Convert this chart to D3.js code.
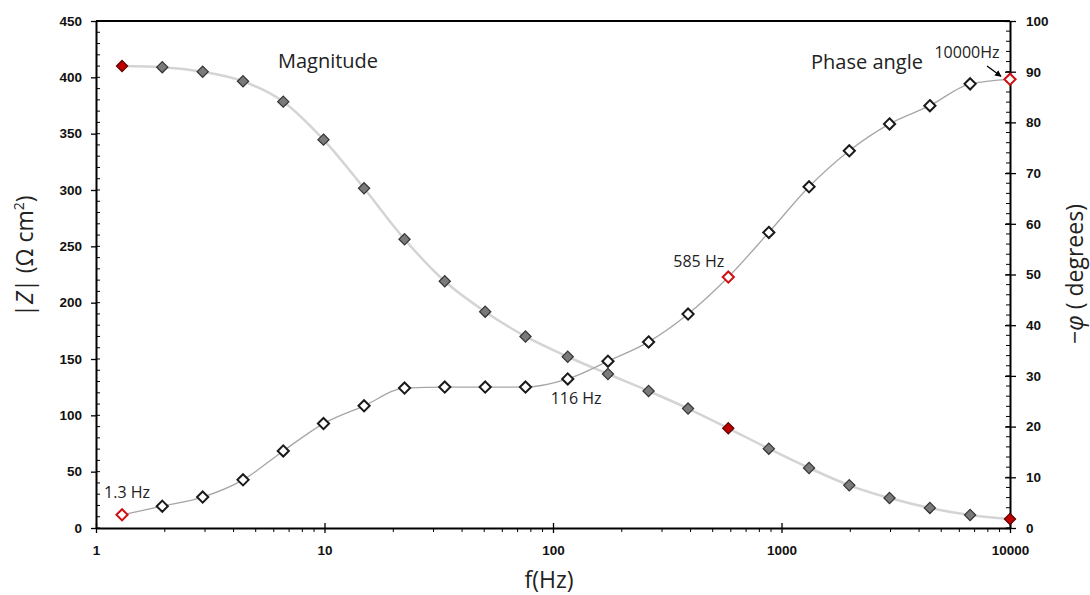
<!DOCTYPE html>
<html>
<head>
<meta charset="utf-8">
<script src="https://cdn.jsdelivr.net/npm/d3@7"></script>
<style>
  body { margin: 0; background: #fff; }
  text { font-family: "Open Sans", sans-serif; }
  .tick text { font-family: "Liberation Sans", Arial, sans-serif; font-weight: bold; font-size: 13.5px; fill: #111; }
</style>
</head>
<body>
<script>
const width = 1090;
const height = 595;
const margin = {top: 21, right: 80, bottom: 67, left: 96};

// frequencies (Hz)
const freq = [1.3, 1.95, 2.93, 4.4, 6.6, 9.9, 14.9, 22.4, 33.6, 50.5, 75.8, 116, 174,
  262, 390, 585, 880, 1320, 1980, 2970, 4460, 6690, 10000];
// |Z| in ohm cm2
const magnitude = [410, 409, 405, 396.5, 378.4, 344.7, 301.5, 256.3, 219, 192, 170, 152, 136.7,
  121.6, 106, 88.5, 70.4, 53.3, 37.9, 26.6, 17.8, 11.5, 8];
// -phase in degrees
const phase = [2.6, 4.3, 6.1, 9.5, 15.2, 20.6, 24.1, 27.6, 27.8, 27.8, 27.8, 29.4, 32.9,
  36.7, 42.2, 49.5, 58.3, 67.3, 74.4, 79.7, 83.3, 87.6, 88.5];
const highlight = [1.3, 585, 10000];

const xTicks = [1, 10, 100, 1000, 10000];
const yLeftTicks = [0, 50, 100, 150, 200, 250, 300, 350, 400, 450];
const yRightTicks = [0, 10, 20, 30, 40, 50, 60, 70, 80, 90, 100];

const notes = [
  {text: "1.3 Hz", f: 1.3, v: 2.6, dx: -18, dy: -17},
  {text: "116 Hz", f: 116, v: 29.4, dx: -17, dy: 25},
  {text: "585 Hz", f: 585, v: 49.5, dx: -55, dy: -10},
];

const x = d3.scaleLog().domain([1, 10000]).range([margin.left, width - margin.right]);
const yL = d3.scaleLinear().domain([0, 450]).range([height - margin.bottom, margin.top]);
const yR = d3.scaleLinear().domain([0, 100]).range([height - margin.bottom, margin.top]);

const svg = d3.select('body').append('svg').attr('width', width).attr('height', height);

const magData = freq.map((f, i) => ({f, v: magnitude[i]}));
const phData = freq.map((f, i) => ({f, v: phase[i]}));

// top border
svg.append('line')
  .attr('x1', margin.left).attr('x2', width - margin.right)
  .attr('y1', margin.top).attr('y2', margin.top)
  .attr('stroke', '#000').attr('stroke-width', 2);

// minor ticks
const minorX = [];
for (let d = 1; d < 10000; d *= 10) for (let k = 2; k < 10; k++) minorX.push(d * k);
svg.append('g').selectAll('line').data(minorX).join('line')
  .attr('x1', d => x(d)).attr('x2', d => x(d))
  .attr('y1', yL(0)).attr('y2', yL(0) + 4)
  .attr('stroke', '#000').attr('stroke-width', 1);
svg.append('g').selectAll('line').data(d3.range(0, 451, 10)).join('line')
  .attr('x1', margin.left).attr('x2', margin.left + 4)
  .attr('y1', d => yL(d)).attr('y2', d => yL(d))
  .attr('stroke', '#000').attr('stroke-width', 1);
svg.append('g').selectAll('line').data(d3.range(0, 101, 2)).join('line')
  .attr('x1', width - margin.right - 4).attr('x2', width - margin.right)
  .attr('y1', d => yR(d)).attr('y2', d => yR(d))
  .attr('stroke', '#000').attr('stroke-width', 1);

// axes
const xAxis = svg.append('g')
  .attr('transform', `translate(0,${height - margin.bottom})`)
  .call(d3.axisBottom(x).tickValues(xTicks).tickFormat(d3.format('d')).tickSize(5).tickPadding(12).tickSizeOuter(0));
xAxis.selectAll('.tick line').attr('y1', -5);

const leftAxis = svg.append('g')
  .attr('transform', `translate(${margin.left},0)`)
  .call(d3.axisLeft(yL).tickValues(yLeftTicks).tickSize(5).tickPadding(9).tickSizeOuter(0));

const rightAxis = svg.append('g')
  .attr('transform', `translate(${width - margin.right},0)`)
  .call(d3.axisRight(yR).tickValues(yRightTicks).tickSize(6).tickPadding(10).tickSizeOuter(0));
rightAxis.selectAll('.tick line').attr('x1', -5);

svg.selectAll('.domain').attr('stroke', '#000').attr('stroke-width', 2);
svg.selectAll('.tick line').attr('stroke', '#000').attr('stroke-width', 1.3);

// lines
svg.append('path').datum(magData)
  .attr('fill', 'none').attr('stroke', '#d4d4d4').attr('stroke-width', 2.5)
  .attr('d', d3.line().curve(d3.curveMonotoneX).x(d => x(d.f)).y(d => yL(d.v)));
svg.append('path').datum(phData)
  .attr('fill', 'none').attr('stroke', '#a6a6a6').attr('stroke-width', 1.3)
  .attr('d', d3.line().curve(d3.curveMonotoneX).x(d => x(d.f)).y(d => yR(d.v)));

const diamond = d3.symbol().type(d3.symbolDiamond2).size(80)();

// magnitude markers
svg.append('g').selectAll('path').data(magData).join('path')
  .attr('d', diamond)
  .attr('transform', d => `translate(${x(d.f)},${yL(d.v)})`)
  .attr('fill', d => highlight.includes(d.f) ? '#c00000' : '#7a7a7a')
  .attr('stroke', d => highlight.includes(d.f) ? '#5a0000' : '#333')
  .attr('stroke-width', 1.2);

// phase markers
svg.append('g').selectAll('path').data(phData).join('path')
  .attr('d', diamond)
  .attr('transform', d => `translate(${x(d.f)},${yR(d.v)})`)
  .attr('fill', '#fff')
  .attr('stroke', d => highlight.includes(d.f) ? '#d01010' : '#1a1a1a')
  .attr('stroke-width', 2);

// series labels
svg.append('text').attr('x', 328).attr('y', 68).attr('text-anchor', 'middle')
  .attr('font-size', 20).attr('fill', '#222').text('Magnitude');
svg.append('text').attr('x', 867).attr('y', 69).attr('text-anchor', 'middle')
  .attr('font-size', 20).attr('fill', '#222').text('Phase angle');

// point annotations
svg.append('g').selectAll('text').data(notes).join('text')
  .attr('x', d => x(d.f) + d.dx).attr('y', d => yR(d.v) + d.dy)
  .attr('font-size', 16).attr('fill', '#222').text(d => d.text);

svg.append('text').attr('x', 967).attr('y', 58).attr('text-anchor', 'middle')
  .attr('font-size', 16).attr('fill', '#222').text('10000Hz');
svg.append('defs').append('marker')
  .attr('id', 'arrow').attr('viewBox', '0 0 10 10').attr('refX', 9).attr('refY', 5)
  .attr('markerWidth', 5).attr('markerHeight', 5).attr('orient', 'auto')
  .append('path').attr('d', 'M0,0L10,5L0,10z').attr('fill', '#000');
svg.append('line')
  .attr('x1', 987).attr('y1', 66)
  .attr('x2', x(10000) - 9).attr('y2', yR(88.5) - 3)
  .attr('stroke', '#000').attr('stroke-width', 1.3)
  .attr('marker-end', 'url(#arrow)');

// axis titles
const yt = svg.append('text')
  .attr('transform', `translate(33,256) rotate(-90)`)
  .attr('text-anchor', 'middle').attr('font-size', 23).attr('fill', '#222');
yt.append('tspan').text('|');
yt.append('tspan').attr('font-style', 'italic').text('Z');
yt.append('tspan').text('| (Ω cm');
yt.append('tspan').attr('font-size', 14).attr('dy', -9).text('2');
yt.append('tspan').attr('dy', 9).text(')');

const rt = svg.append('text')
  .attr('transform', `translate(1083,274) rotate(-90)`)
  .attr('text-anchor', 'middle').attr('font-size', 23).attr('fill', '#222');
rt.append('tspan').text('−');
rt.append('tspan').attr('font-style', 'italic').text('φ');
rt.append('tspan').text(' ( degrees)');

svg.append('text').attr('x', 549).attr('y', 588)
  .attr('text-anchor', 'middle').attr('font-size', 23).attr('fill', '#222').text('f(Hz)');
</script>
</body>
</html>
